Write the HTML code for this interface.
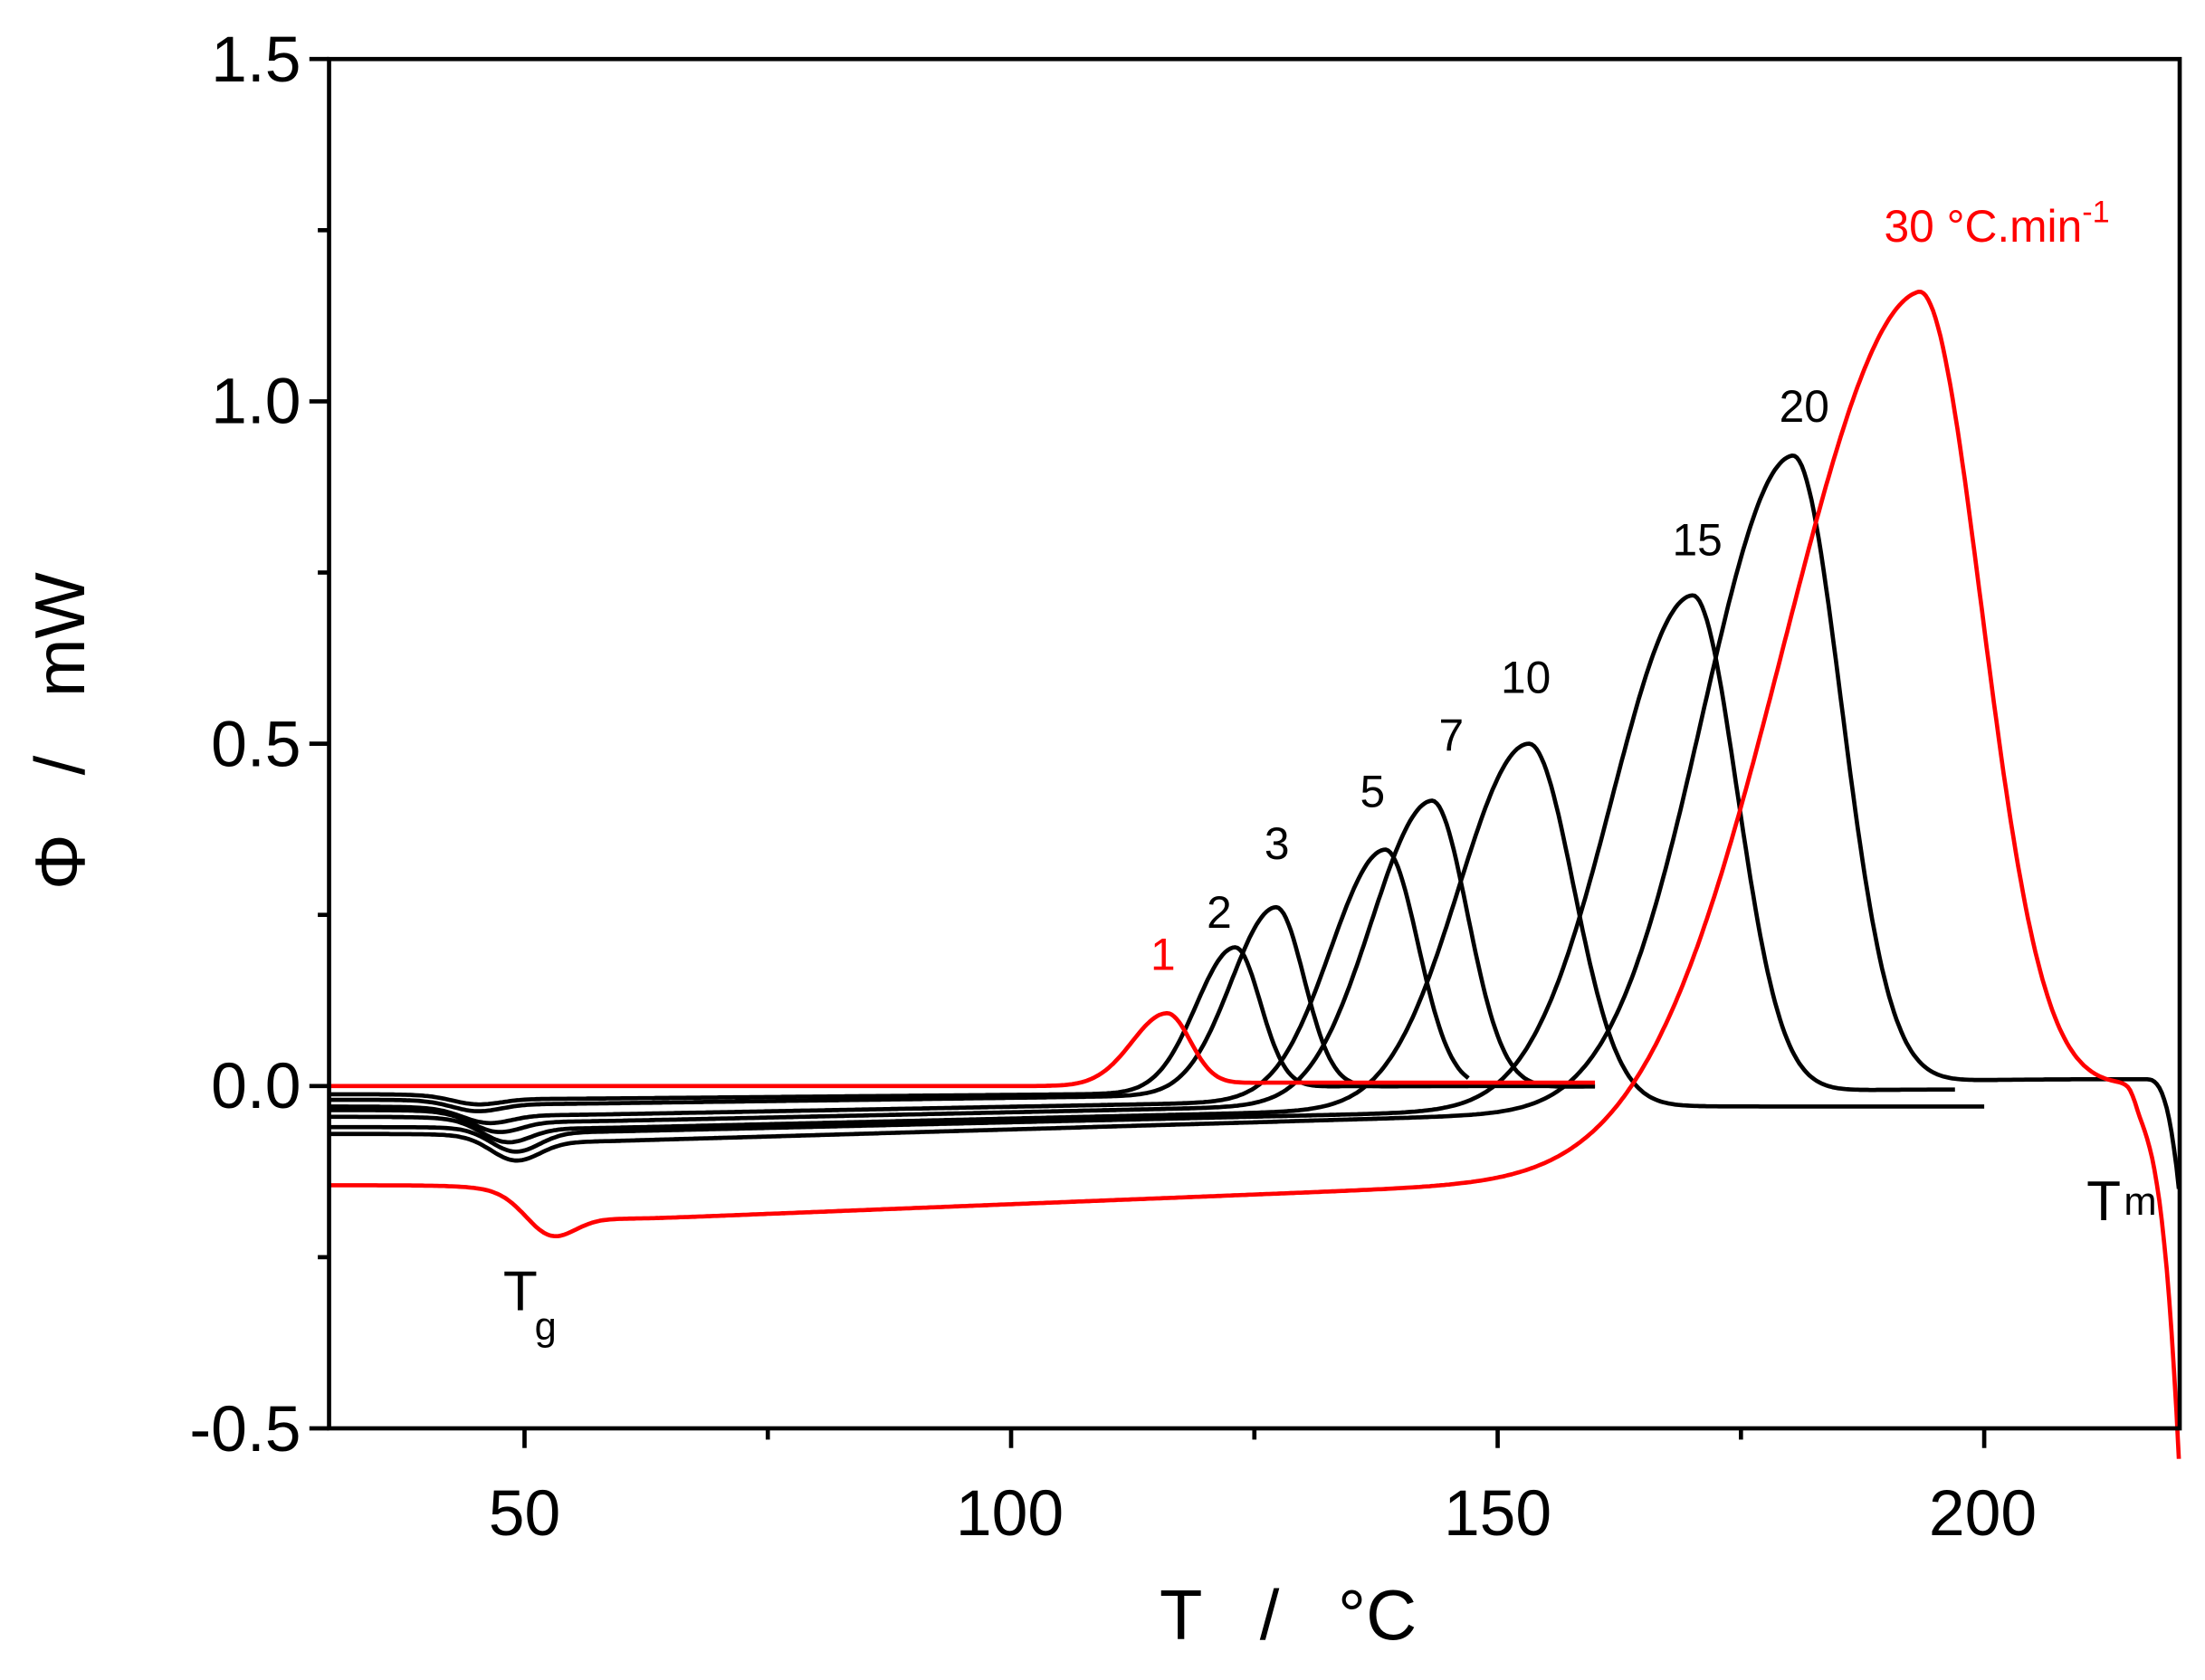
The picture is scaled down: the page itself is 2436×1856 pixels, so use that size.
<!DOCTYPE html>
<html><head><meta charset="utf-8"><style>
html,body{margin:0;padding:0;background:#fff}
svg{display:block}
text{font-family:"Liberation Sans",sans-serif}
</style></head><body>
<svg id="s" width="2436" height="1856" viewBox="0 0 1568 1195" preserveAspectRatio="none" xmlns="http://www.w3.org/2000/svg">
<rect width="1568" height="1195" fill="#fff"/>
<g id="curves" fill="none" stroke-width="3" stroke-linejoin="round"></g>
<rect x="234" y="42" width="1316" height="974" fill="none" stroke="#000" stroke-width="3"/>
<g id="ticks" stroke="#000" stroke-width="3"></g>
<g font-size="46" text-anchor="end" fill="#000">
<text x="214" y="58">1.5</text>
<text x="214" y="301">1.0</text>
<text x="214" y="545">0.5</text>
<text x="214" y="788">0.0</text>
<text x="214" y="1032">-0.5</text>
</g>
<g font-size="46" text-anchor="middle" fill="#000">
<text x="373" y="1092">50</text>
<text x="718" y="1092">100</text>
<text x="1065" y="1092">150</text>
<text x="1410" y="1092">200</text>
</g>
<text x="916" y="1166" font-size="50" text-anchor="middle" xml:space="preserve">T   /   °C</text>
<text transform="translate(60,520) rotate(-90)" font-size="50" text-anchor="middle" xml:space="preserve">Φ   /   mW</text>
<g font-size="32" text-anchor="middle" fill="#000">
<text x="827" y="690" fill="#f00">1</text>
<text x="867" y="660">2</text>
<text x="908" y="611">3</text>
<text x="976" y="574">5</text>
<text x="1032" y="534">7</text>
<text x="1085" y="493">10</text>
<text x="1207" y="395">15</text>
<text x="1283" y="300">20</text>
<text x="1420" y="172" fill="#f00">30 °C.min<tspan font-size="22" dy="-14">-1</tspan></text>
<text x="370" y="932" font-size="40">T</text>
<text x="388" y="953" font-size="28">g</text>
<text x="1496" y="868" font-size="40">T</text>
<text x="1522" y="864" font-size="28">m</text>
</g>
</svg>
<script>
var X=function(T){return 373+(T-50)*6.92;};
var Y=function(v){return 772.5-v*487;};
var ticks='';
[50,100,150,200].forEach(function(T){ticks+='<line x1="'+X(T)+'" y1="1016" x2="'+X(T)+'" y2="1030"/>';});
[75,125,175].forEach(function(T){ticks+='<line x1="'+X(T)+'" y1="1016" x2="'+X(T)+'" y2="1024"/>';});
for(var v=-0.5;v<=1.51;v+=0.25){var major=Math.abs(v*2-Math.round(v*2))<1e-6;ticks+='<line x1="'+(major?220:226)+'" y1="'+Y(v)+'" x2="234" y2="'+Y(v)+'"/>';}
document.getElementById('ticks').innerHTML=ticks;
function sig(x){return 1/(1+Math.exp(-x));}
var C=[
 ['#000',123,0.21,4,2.6,-0.012,-0.02,0.01,44,-0.01,0.0,147],
 ['#000',127.2,0.27,4.6,2.9,-0.02,-0.028,0.012,44,-0.012,0.0,160],
 ['#000',138.4,0.36,5.6,3.4,-0.03,-0.045,0.015,45,-0.02,0.0,147],
 ['#000',143.2,0.435,6.2,3.7,-0.035,-0.055,0.02,46,-0.025,0.0,160],
 ['#000',153.2,0.53,7.2,4.6,-0.045,-0.065,0.025,47,-0.03,-0.03,200],
 ['#000',170,0.74,8.3,4.6,-0.06,-0.07,0.03,48,-0.03,-0.005,197],
 ['#000',180.3,0.94,9.3,5.0,-0.07,-0.085,0.03,48,-0.03,0.01,220],
 ['#f00',116,0.105,3.6,2.4,0.0,0.0,0.0,45,0.0,0.005,160],
 ['#f00',193.2,1.245,14,6.5,-0.145,-0.20,0.04,51.5,-0.12,0.01,220]
];
var out='';
C.forEach(function(c,i){
 var Tp=c[1],h=c[2],sl=c[3],sr=c[4],a=c[5],b=c[6],d=c[7],Td=c[8],pre=c[9],post=c[10],Te=c[11];
 var pts=[];
 for(var T=30;T<=Te+0.001;T+=0.25){
  var st=sig((T-Td)/2.5);
  var lin=b+(pre-b)*Math.max(0,(T-Td))/(Tp-Td);
  var base=a*(1-st)+lin*st - d*Math.exp(-Math.pow((T-Td-1)/3.5,2));
  var s2=sig((T-Tp-sr)/sr);
  base=base*(1-s2)+post*s2;
  var s=T<Tp?sl:sr;
  var v=base+h*Math.exp(-0.5*Math.pow((T-Tp)/s,2));
  if(i==8 && T>213) v-=0.51*Math.pow((T-213)/7,4)+0.04*sig((T-215.5)*3);
  if(i==6 && T>216.5) v-=0.16*Math.pow((T-216.5)/3.5,3);
  pts.push(X(T).toFixed(1)+','+Y(v).toFixed(1));
 }
 out+='<polyline stroke="'+c[0]+'" points="'+pts.join(' ')+'"/>';
});
document.getElementById('curves').innerHTML=out;
</script>
</body></html>
